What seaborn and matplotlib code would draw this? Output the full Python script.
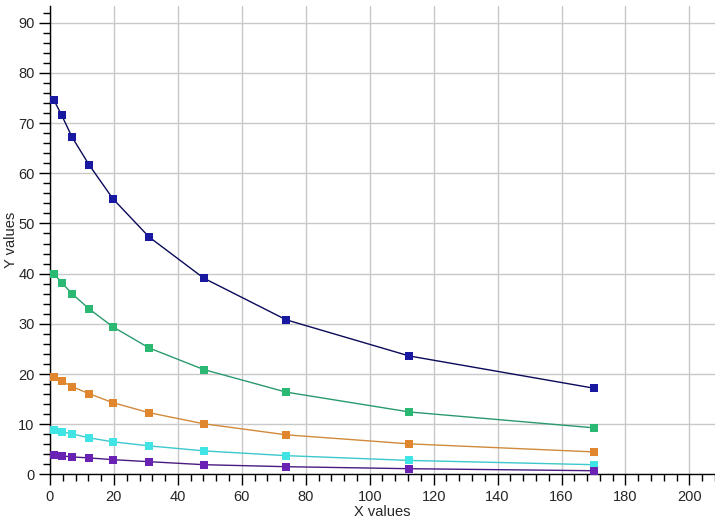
import pandas as pd
import matplotlib
matplotlib.use("Agg")
import matplotlib.pyplot as plt
from matplotlib.ticker import MultipleLocator
import seaborn as sns

# Data
x_values = [1.2, 3.7, 6.9, 12.2, 19.7, 31.0, 48.1, 73.9, 112.4, 170.0]
blue = [74.6, 71.5, 67.2, 61.7, 54.9, 47.3, 39.1, 30.8, 23.6, 17.2]
green = [40.0, 38.2, 36.0, 33.0, 29.4, 25.2, 20.9, 16.4, 12.45, 9.3]
orange = [19.5, 18.6, 17.5, 16.1, 14.3, 12.3, 10.1, 7.9, 6.1, 4.5]
cyan = [8.9, 8.5, 8.1, 7.3, 6.5, 5.7, 4.7, 3.75, 2.8, 1.95]
purple = [3.9, 3.7, 3.5, 3.3, 2.95, 2.55, 1.95, 1.55, 1.15, 0.75]

series_names = ['blue', 'green', 'orange', 'cyan', 'purple']
series_values = [blue, green, orange, cyan, purple]

# Lang tabell for seaborn
rows = []
for name, vals in zip(series_names, series_values):
    for xv, yv in zip(x_values, vals):
        rows.append({'x': xv, 'y': yv, 'serie': name})
df = pd.DataFrame(rows)

line_colors = {'blue': '#0a0a5a', 'green': '#2a9a6e', 'orange': '#d08a3a',
               'cyan': '#3cc8cc', 'purple': '#4a1a80'}
marker_colors = {'blue': '#1818a0', 'green': '#2bb873', 'orange': '#e0862e',
                 'cyan': '#40e4e4', 'purple': '#6a22b4'}

sns.set_style("white")
plt.rcParams['font.family'] = ['Liberation Sans', 'DejaVu Sans']

fig = plt.figure(figsize=(7.15, 5.24), dpi=100)
ax = fig.add_axes([0.0699, 0.0945, 0.9301, 0.894])

sns.lineplot(data=df, x='x', y='y', hue='serie', palette=line_colors,
             linewidth=1.0, legend=False, ax=ax, zorder=2)
for name in series_names:
    sub = df[df['serie'] == name]
    sns.scatterplot(data=sub, x='x', y='y', color=marker_colors[name], marker='s',
                    s=28, linewidth=0, legend=False, ax=ax, zorder=3)

ax.set_xlim(0, 208)
ax.set_ylim(0, 93.3)
ax.xaxis.set_major_locator(MultipleLocator(20))
ax.xaxis.set_minor_locator(MultipleLocator(4))
ax.yaxis.set_major_locator(MultipleLocator(10))
ax.yaxis.set_minor_locator(MultipleLocator(2))

ax.grid(True, which='major', color='#c8c8c8', linewidth=1.0)
ax.set_axisbelow(True)
for side in ['top', 'right']:
    ax.spines[side].set_visible(False)
for side in ['left', 'bottom']:
    ax.spines[side].set_color('black')
    ax.spines[side].set_linewidth(1.0)

ax.tick_params(which='major', direction='out', length=8, width=1, color='black',
               labelsize=10.5, pad=3, left=True, bottom=True)
ax.tick_params(which='minor', direction='out', length=5, width=1, color='black',
               left=True, bottom=True)

ax.set_xlabel('X values', fontsize=10.5, labelpad=1)
ax.set_ylabel('Y values', fontsize=10.5, labelpad=0)

fig.savefig('out.png', dpi=100)
